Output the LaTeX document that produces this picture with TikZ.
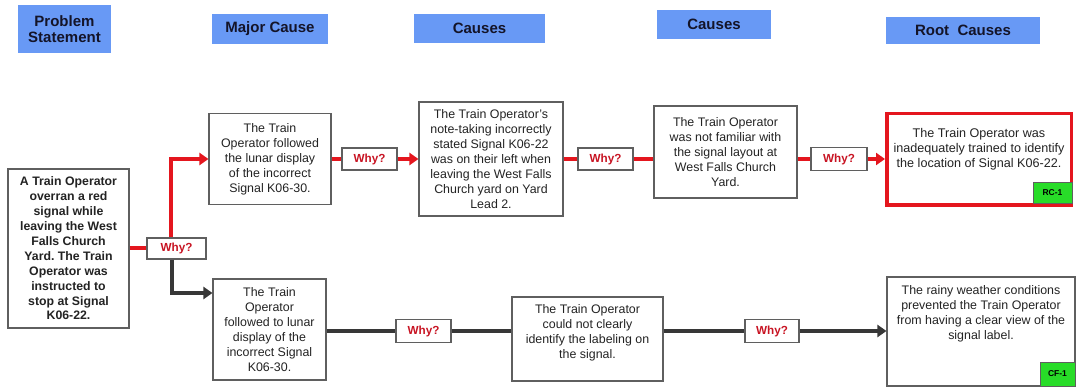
\documentclass[tikz,border=0pt]{standalone}
\usepackage{fontspec}
\setmainfont{Liberation Sans}
\usetikzlibrary{arrows.meta}
\frenchspacing
\definecolor{hdr}{RGB}{104,153,245}
\definecolor{hdrtext}{RGB}{20,20,40}
\definecolor{redl}{RGB}{228,22,30}
\definecolor{darkl}{RGB}{55,55,55}
\definecolor{whyred}{RGB}{200,20,35}
\definecolor{bord}{RGB}{95,95,95}
\definecolor{boxtext}{RGB}{35,35,35}
\definecolor{grn}{RGB}{40,220,40}
\begin{document}
\begin{tikzpicture}[x=1pt,y=-1pt,
 hdrbox/.style={fill=hdr, font=\fontsize{15}{16.5}\selectfont\bfseries, text=hdrtext, align=center, inner sep=0pt},
 box/.style={draw=bord, line width=1.1pt, fill=white, text=boxtext, font=\fontsize{12.4}{15}\selectfont, align=center, inner sep=0pt},
 plain/.style={text=boxtext, font=\fontsize{12.4}{15}\selectfont, align=center, inner sep=0pt},
 whybox/.style={draw=bord, line width=1.1pt, fill=white, font=\fontsize{11.7}{13}\selectfont\bfseries, text=whyred, inner sep=0pt, minimum width=55pt, minimum height=22pt},
 redc/.style={draw=redl, line width=4pt},
 darkc/.style={draw=darkl, line width=4pt},
 tip/.style={-{Triangle[length=9pt,width=12pt]}},
 tag/.style={draw=bord, line width=0.8pt, fill=grn, text=black, font=\fontsize{8.5}{9}\selectfont\bfseries, inner sep=0pt}
]
\useasboundingbox (0,0) rectangle (1078,387);

% headers
\node[hdrbox, minimum width=93pt, minimum height=48pt] (h1) at (64.5,29) {Problem\\Statement};
\node[hdrbox, minimum width=116pt, minimum height=30pt] (h2) at (270,29) {Major Cause};
\node[hdrbox, minimum width=131pt, minimum height=29pt] (h3) at (479.5,28.5) {Causes};
\node[hdrbox, minimum width=114pt, minimum height=29pt] (h4) at (714,24.5) {Causes};
\node[hdrbox, minimum width=154pt, minimum height=27pt] (h5) at (963,30.5) {Root\ \ Causes};

% problem
\node[box, font=\fontsize{12.3}{14.9}\selectfont\bfseries, minimum width=121pt, minimum height=159pt] (prob) at (68.5,248.5)
 {A Train Operator\\overran a red\\signal while\\leaving the West\\Falls Church\\Yard. The Train\\Operator was\\instructed to\\stop at Signal\\K06-22.};
\node[whybox, minimum width=59pt, minimum height=21pt] (w1) at (176.5,248.5) {Why?};

% upper row
\node[box, minimum width=122pt, minimum height=91pt] (m1) at (270,159) {The Train\\Operator followed\\the lunar display\\of the incorrect\\Signal K06-30.};
\node[whybox] (w2) at (369.5,159) {Why?};
\node[box, minimum width=144pt, minimum height=114pt] (c1) at (491,159) {The Train Operator’s\\note-taking incorrectly\\stated Signal K06-22\\was on their left when\\leaving the West Falls\\Church yard on Yard\\Lead 2.};
\node[whybox] (w3) at (605.5,159) {Why?};
\node[box, minimum width=143pt, minimum height=92pt] (c2) at (725.5,152) {The Train Operator\\was not familiar with\\the signal layout at\\West Falls Church\\Yard.};
\node[whybox, minimum width=56pt, minimum height=23pt] (w4) at (839,159) {Why?};
\node[draw=redl, line width=3.5pt, fill=white, minimum width=184.5pt, minimum height=91.5pt, inner sep=0pt] (rc) at (979,159.5) {};
\node[plain, font=\fontsize{12.6}{15}\selectfont] (rctext) at (979,149.5) {The Train Operator was\\inadequately trained to identify\\the location of Signal K06-22.};
\node[tag, minimum width=39pt, minimum height=21pt] (rctag) at (1052.5,192.5) {RC-1};

% lower row
\node[box, minimum width=113pt, minimum height=101pt] (m2) at (269.5,329.5) {The Train\\Operator\\followed to lunar\\display of the\\incorrect Signal\\K06-30.};
\node[whybox, minimum height=23pt] (w5) at (423.5,331) {Why?};
\node[box, minimum width=151pt, minimum height=84pt] (c3) at (587.5,339) {};
\node[plain] (c3text) at (587.5,333) {The Train Operator\\could not clearly\\identify the labeling on\\the signal.};
\node[whybox, minimum width=54pt, minimum height=23pt] (w6) at (772,331) {Why?};
\node[box, minimum width=188pt, minimum height=109pt] (cf) at (981,331.5) {};
\node[plain] (cftext) at (981,313.5) {The rainy weather conditions\\prevented the Train Operator\\from having a clear view of the\\signal label.};
\node[tag, minimum width=35pt, minimum height=24pt] (cftag) at (1057.5,374) {CF-1};

% connectors
\draw[redc] (prob.east) -- (w1.west);
\draw[redc, tip] (171,0 |- w1.north) |- (m1.west);
\draw[darkc, tip] (172,0 |- w1.south) |- (m2.west |- 0,293);
\draw[redc] (m1.east) -- (w2.west);
\draw[redc, tip] (w2.east) -- (c1.west);
\draw[redc] (c1.east) -- (w3.west);
\draw[redc] (w3.east) -- (w3.east -| c2.west);
\draw[redc] (c2.east |- w4.west) -- (w4.west);
\draw[redc, tip] (w4.east) -- (w4.east -| rc.west);
\draw[darkc] (m2.east |- w5.west) -- (w5.west);
\draw[darkc] (w5.east) -- (w5.east -| c3.west);
\draw[darkc] (c3.east |- w6.west) -- (w6.west);
\draw[darkc, tip] (w6.east) -- (w6.east -| cf.west);
\end{tikzpicture}
\end{document}
